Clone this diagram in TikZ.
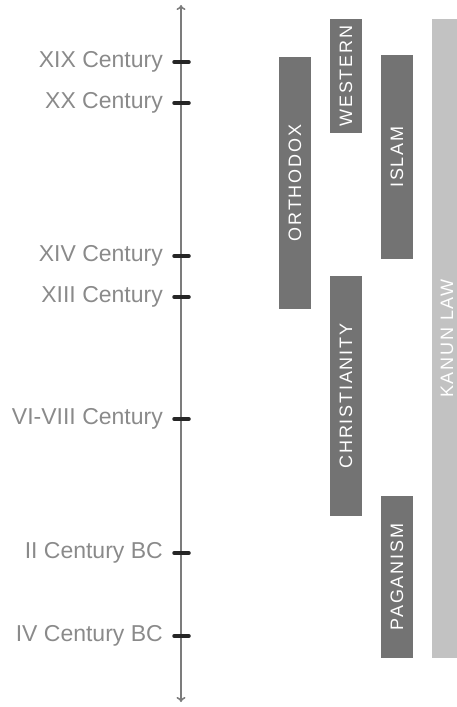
\documentclass[tikz,border=0pt]{standalone}
\usepackage{fontspec}
\setmainfont{Liberation Sans}
\newfontfamily\barfont[LetterSpace=10]{Liberation Sans}
\usetikzlibrary{positioning}
\usetikzlibrary{arrows.meta}

\definecolor{bardark}{HTML}{737373}
\definecolor{barlight}{HTML}{C2C2C2}
\definecolor{inkgrey}{HTML}{8A8A8A}

\begin{document}
\begin{tikzpicture}[
x=1pt,y=-1pt,
era/.style={
	% The text:
	text=inkgrey,
	font=\fontsize{23}{23}\selectfont,
	inner sep=0pt},
faith/.style={
	% The shape:
	rectangle,rotate=90,
	minimum height=32pt,
	% The filling:
	fill=bardark,
	% Font
	text=white,font=\barfont\fontsize{18}{18}\selectfont},
law/.style={
	faith,
	minimum height=30pt,
	fill=barlight},
tick/.style={line width=3.5pt,black!85,line cap=round},
>={To[length=5pt,width=9pt]},
]
\useasboundingbox (0,0) rectangle (457,707);

% the time axis
\coordinate (top) at (181,5);
\coordinate (bottom) at (181,702);
\draw[<->,inkgrey!90!black,line width=1.6pt] (bottom) -- (top);

\coordinate (t19) at (181,62);
\coordinate (t20) at (181,103);
\coordinate (t14) at (181,256);
\coordinate (t13) at (181,297);
\coordinate (t6) at (181,419);
\coordinate (t2bc) at (181,553);
\coordinate (t4bc) at (181,636);

\draw[tick] (t19) +(-7,0) -- +(8,0);
\draw[tick] (t20) +(-7,0) -- +(8,0);
\draw[tick] (t14) +(-7,0) -- +(8,0);
\draw[tick] (t13) +(-7,0) -- +(8,0);
\draw[tick] (t6) +(-7,0) -- +(8,0);
\draw[tick] (t2bc) +(-7,0) -- +(8,0);
\draw[tick] (t4bc) +(-7,0) -- +(8,0);

\node (xix) [era, left=18pt of t19] {XIX Century};
\node (xx) [era, left=18pt of t20] {XX Century};
\node (xiv) [era, left=18pt of t14] {XIV Century};
\node (xiii) [era, left=18pt of t13] {XIII Century};
\node (vi) [era, left=18pt of t6] {VI-VIII Century};
\node (iibc) [era, left=18pt of t2bc] {II Century BC};
\node (ivbc) [era, left=18pt of t4bc] {IV Century BC};

% the bars
\node (orthodox) [faith, minimum width=252pt] at (295,183) {ORTHODOX};
\node (western) [faith, minimum width=114pt] at (346,76) {WESTERN};
\node (islam) [faith, minimum width=204pt] at (397,157) {ISLAM};
\node (christianity) [faith, minimum width=240pt] at (346,396) {CHRISTIANITY};
\node (paganism) [faith, minimum width=162pt] at (397,577) {PAGANISM};
\node (kanun) [law, minimum width=639pt] at (447,338.5) {KANUN LAW};

\end{tikzpicture}
\end{document}
